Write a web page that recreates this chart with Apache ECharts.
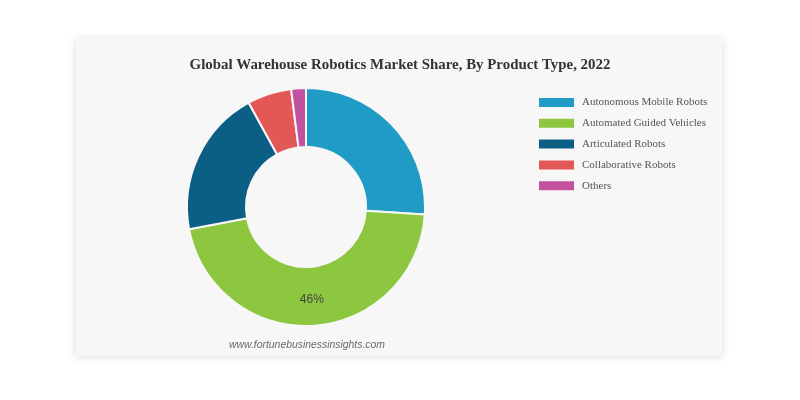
<!DOCTYPE html>
<html><head><meta charset="utf-8">
<script src="https://cdn.jsdelivr.net/npm/echarts@6/dist/echarts.min.js"></script>
<style>html,body{margin:0;padding:0;background:#fff}#c{width:800px;height:400px}</style>
</head><body><div id="c"></div>
<script>
const categories = ["Autonomous Mobile Robots","Automated Guided Vehicles","Articulated Robots","Collaborative Robots","Others"];
const shares = [26, 46, 20, 6, 2];
const colors = ["#1f9bc5","#8dc63f","#0b5e84","#e35757","#c2519f"];
const labelled = ["Automated Guided Vehicles"];

const chart = echarts.init(document.getElementById('c'));
chart.setOption({
  animation:false,
  graphic:[{type:'rect',shape:{x:76,y:38,width:646,height:318,r:2},
    style:{fill:'#f7f7f7',shadowBlur:8,shadowColor:'rgba(0,0,0,0.15)',shadowOffsetY:1},z:-10},
    {type:'text',left:229,top:340,style:{text:'www.fortunebusinessinsights.com',font:'italic 10.4px "Liberation Sans", Arial',fill:'#6a6a6a'}}],
  title:{text:'Global Warehouse Robotics Market Share, By Product Type, 2022',left:'center',top:53,
    textStyle:{fontFamily:'"Liberation Serif", serif',fontWeight:'bold',fontSize:14.9,color:'#333'}},
  legend:{orient:'vertical',left:532,top:91,itemWidth:37,itemHeight:11,itemGap:7.8,icon:'rect',
    textStyle:{fontFamily:'"Liberation Serif", serif',fontSize:11,color:'#555',padding:[0,0,0,2]},
    data:categories},
  series:[{type:'pie',center:[306,207],radius:[60,119],startAngle:90,clockwise:true,
    itemStyle:{borderColor:'#f7f7f7',borderWidth:2},
    label:{show:false},labelLine:{show:false},
    data:categories.map((c,i)=>({name:c,value:shares[i],itemStyle:{color:colors[i]},
      label:{show:labelled.includes(c),position:'inside',formatter:'{c}%',
        fontFamily:'"Liberation Sans", Arial',fontSize:12,color:'#444'}}))}]
});
</script></body></html>
